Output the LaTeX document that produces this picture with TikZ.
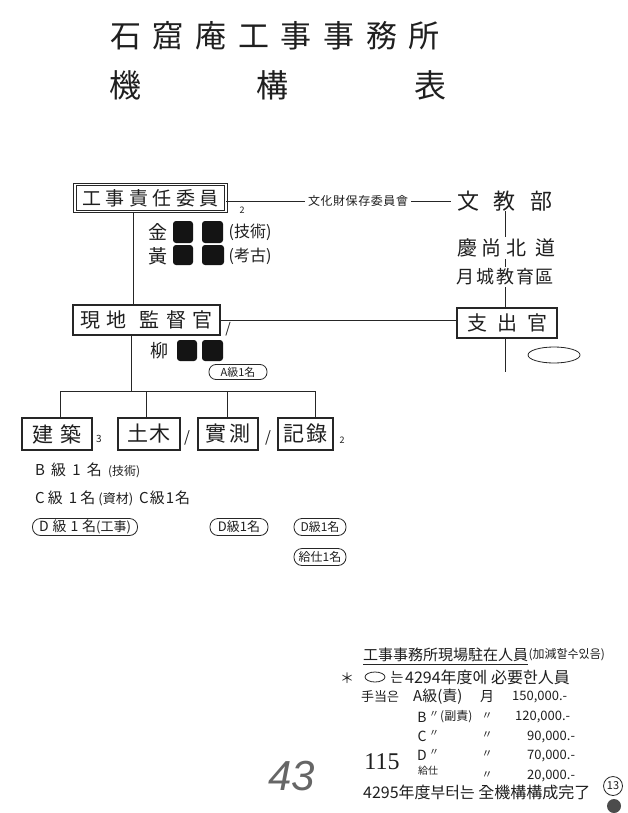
\documentclass[tikz,border=0pt]{standalone}
\usepackage{fontspec}
\setmainfont{Noto Sans CJK KR}
\newfontfamily\prnum{Liberation Serif}
\newfontfamily\hnum{Liberation Sans}
\usetikzlibrary{shapes.geometric}
\newcommand\fsz[1]{\fontsize{#1}{#1}\selectfont}
\newcommand\spr[2]{\makebox[#1][s]{#2}}
\begin{document}
\begin{tikzpicture}[x=1pt,y=-1pt,
  ln/.style={draw=black!85, line width=1pt},
  t/.style={inner sep=0pt, text=black!88},
  tw/.style={inner sep=1.5pt, text=black!88},
  bx/.style={draw=black!85, line width=1.3pt, inner sep=0pt, minimum height=30pt, text=black!88},
  dbx/.style={draw=black!85, double, double distance=1.3pt, line width=0.9pt, inner sep=0pt, minimum height=27pt, text=black!88},
  ov/.style={ellipse, draw=black!85, line width=0.8pt, inner sep=0pt, text=black!88},
  sov/.style={draw=black!85, line width=0.8pt, inner sep=0pt, rounded corners=7.5pt, text=black!88},
  red/.style={fill=black!92, rounded corners=3pt}
]
\fill[white] (0,0) rectangle (628,813);
\useasboundingbox (0,0) rectangle (628,813);

% ---------- title ----------
\node[t] (ttl) at (275,36) {\fsz{31}\spr{330pt}{石\hfil 窟\hfil 庵\hfil 工\hfil 事\hfil 事\hfil 務\hfil 所}};
\node[t] (ki) at (125,85) {\fsz{32}機};
\node[t] (ko) at (272,85) {\fsz{32}構};
\node[t] (hy) at (430,85) {\fsz{32}表};

% ---------- top row ----------
\node[dbx, minimum width=151pt] (b1) at (150.5,198) {\fsz{19}\spr{136pt}{工\hfil 事\hfil 責\hfil 任\hfil 委\hfil 員}};
\node[t] (b1n) at (242,210) {\fsz{9}2};
\node[t] (cult) at (358,201) {\fsz{12}\spr{100pt}{文\hfil 化\hfil 財\hfil 保\hfil 存\hfil 委\hfil 員\hfil 會}};
\node[t] (mun) at (505,201) {\fsz{22}\spr{96pt}{文\hfil 教\hfil 部}};
\draw[ln] (b1.east |- cult.west) -- ([xshift=-3pt]cult.west);
\draw[ln] ([xshift=3pt]cult.east) -- ([xshift=-6pt]mun.west);

% names under b1
\node[t] (kim) at (158,232) {\fsz{19}金};
\node[t] (hwang) at (158,256) {\fsz{19}黃};
\fill[red] (173,221) rectangle (193,243);
\fill[red] (202,221) rectangle (223,243);
\fill[red] (173,245) rectangle (193,265);
\fill[red] (202,245) rectangle (224,265);
\node[t] (gisul) at (250,232) {\fsz{16}(技術)};
\node[t] (gogo) at (250,256) {\fsz{16}(考古)};

% right column
\node[tw] (kb1) at (506,248) {\fsz{20}\spr{98pt}{慶\hfil 尚\hfil 北\hfil\hfil 道}};
\node[tw] (kb2) at (505,277) {\fsz{18}\spr{98pt}{月\hfil 城\hfil 教\hfil 育\hfil 區}};
\node[bx, minimum width=100pt] (sh) at (507,323) {\fsz{20}\spr{80pt}{支\hfil 出\hfil 官}};
\draw[ln] (mun.south) -- (mun.south |- kb1.north);
\draw[ln] (mun.south |- kb1.south) -- (mun.south |- kb2.north);
\draw[ln] (mun.south |- kb2.south) -- (mun.south |- sh.north);
\coordinate (shd) at (505,372);
\draw[ln] (sh.south -| shd) -- (shd);
\node[ov, minimum width=52pt, minimum height=16pt] (emp) at (554,355) {};

% ---------- second row ----------
\node[bx, minimum width=147pt] (b2) at (146.5,320) {\fsz{20}\spr{132pt}{現\hfil 地\hfil\hfil 監\hfil 督\hfil 官}};
\node[t] (b2n) at (228,329) {\fsz{14}/};
\coordinate (vx) at (133,0);
\draw[ln] (b1.south -| vx) -- (b2.north -| vx);
\draw[ln] (b2.east) -- (b2.east -| sh.west);

\node[t] (ryu) at (159,351) {\fsz{18}柳};
\fill[red] (177,340) rectangle (197,361);
\fill[red] (202,340) rectangle (223,361);
\node[sov, minimum width=58pt, minimum height=15pt, rounded corners=7pt] (aov) at (238,372) {\fsz{11}A級1名};

% ---------- tree ----------
\coordinate (j0) at (131,391);
\coordinate (j1) at (60,391);
\coordinate (j2) at (146,391);
\coordinate (j3) at (227,391);
\coordinate (j4) at (315,391);
\draw[ln] (b2.south -| j0) -- (j0);
\draw[ln] (j1) -- (j4);

\node[bx, minimum width=70pt, minimum height=32pt] (l1) at (57,434) {\fsz{21}\spr{50pt}{建\hfil 築}};
\node[bx, minimum width=62pt, minimum height=32pt] (l2) at (149,434) {\fsz{21}\spr{44pt}{土\hfil 木}};
\node[bx, minimum width=60pt, minimum height=32pt] (l3) at (228,434) {\fsz{21}\spr{46pt}{實\hfil 測}};
\node[bx, minimum width=55pt, minimum height=32pt] (l4) at (305.5,434) {\fsz{21}\spr{44pt}{記\hfil 錄}};
\draw[ln] (j1) -- (j1 |- l1.north);
\draw[ln] (j2) -- (j2 |- l2.north);
\draw[ln] (j3) -- (j3 |- l3.north);
\draw[ln] (j4) -- (j4 |- l4.north);
\node[t] (n1) at (99,439) {\fsz{10}3};
\node[t] (n2) at (187,438) {\fsz{15}/};
\node[t] (n3) at (268,438) {\fsz{15}/};
\node[t] (n4) at (342,440) {\fsz{9}2};

% ---------- staff ----------
\node[t, anchor=west] (bq) at (35,470) {\fsz{15}\spr{105pt}{B\hfil 級\hfil 1\hfil 名\hfil {\fsz{12}(技術)}}};
\node[t, anchor=west] (cq) at (35,498) {\fsz{15}\spr{98pt}{C\hfil 級\hfil\hfil 1\hfil 名\hfil {\fsz{13}(資材)}}};
\node[t, anchor=west] (cq2) at (139,498) {\fsz{15}\spr{51pt}{C\hfil 級\hfil 1\hfil 名}};
\node[sov, minimum width=105pt, minimum height=17pt, rounded corners=8pt] (d1) at (85,527) {\fsz{14}\spr{92pt}{D\hfil 級\hfil 1\hfil 名{\fsz{13}(工事)}}};
\node[sov, minimum width=58pt, minimum height=17pt, rounded corners=8pt] (d2) at (239,527) {\fsz{13}D級1名};
\node[sov, minimum width=52pt, minimum height=17pt, rounded corners=8pt] (d3) at (320,527) {\fsz{12}D級1名};
\node[sov, minimum width=52pt, minimum height=17pt, rounded corners=8pt] (d4) at (320,557) {\fsz{12}給仕1名};

% ---------- bottom right notes ----------
\node[t, anchor=west] (hd) at (363,655) {\fsz{15}工事事務所現場駐在人員};
\node[t, anchor=west] (hd2) at (hd.east) {\fsz{12}(加減할수있음)};
\draw[draw=black!85, line width=0.8pt] ([yshift=-2pt]hd.south west) -- ([yshift=-2pt]hd.south east);
\node[t] (star) at (347,678) {\fsz{14}＊};
\node[ov, minimum width=20pt, minimum height=10pt] (eo) at (375,677) {};
\node[t] (neun) at (397,677) {\fsz{14}는};
\node[t, anchor=west] (l2a) at (405,677) {\fsz{16}4294年度에 必要한人員};

\node[t] (sudang) at (380,697) {\fsz{13}手当은};
\node[t, anchor=west] (ra) at (413,697) {\fsz{15}A級(責)};
\node[t] (wol) at (487,697) {\fsz{14}月};
\node[t, anchor=west] (va) at (512,697) {\fsz{13}150,000.-};

\node[t] (rb) at (422,717) {\fsz{14}B};
\node[t] (rbd) at (434,714) {\fsz{10}〃};
\node[t, anchor=west] (rbs) at (440,717) {\fsz{12}(副責)};
\node[t] (rbd2) at (487,716) {\fsz{11}〃};
\node[t, anchor=west] (vb) at (515,717) {\fsz{13}120,000.-};

\node[t] (rc) at (422,736) {\fsz{14}C};
\node[t] (rcd) at (434,733) {\fsz{10}〃};
\node[t] (rcd2) at (487,735) {\fsz{11}〃};
\node[t, anchor=west] (vc) at (527,737) {\fsz{13}90,000.-};

\node[t] (rd) at (422,755) {\fsz{14}D};
\node[t] (rdd) at (434,752) {\fsz{10}〃};
\node[t] (rdd2) at (487,754) {\fsz{11}〃};
\node[t, anchor=west] (vd) at (527,756) {\fsz{13}70,000.-};

\node[t] (p115) at (382,762) {\prnum\fsz{24}115};

\node[t] (rg) at (428,771) {\fsz{10}給仕};
\node[t] (rgd) at (487,775) {\fsz{11}〃};
\node[t, anchor=west] (vg) at (527,776) {\fsz{13}20,000.-};

\node[t, anchor=west] (last) at (363,792) {\fsz{16}4295年度부터는 全機構構成完了};
\node[circle, draw=black!85, line width=0.8pt, inner sep=0pt, minimum size=19pt, text=black!88] (c13) at (613,786) {\fsz{11}13};
\node[circle, fill=black!70, minimum size=14pt, inner sep=0pt] (blob) at (614,806) {};

\node[t, text=black!60] (n43) at (292,776) {\hnum\itshape\fsz{42}43};
\end{tikzpicture}
\end{document}
